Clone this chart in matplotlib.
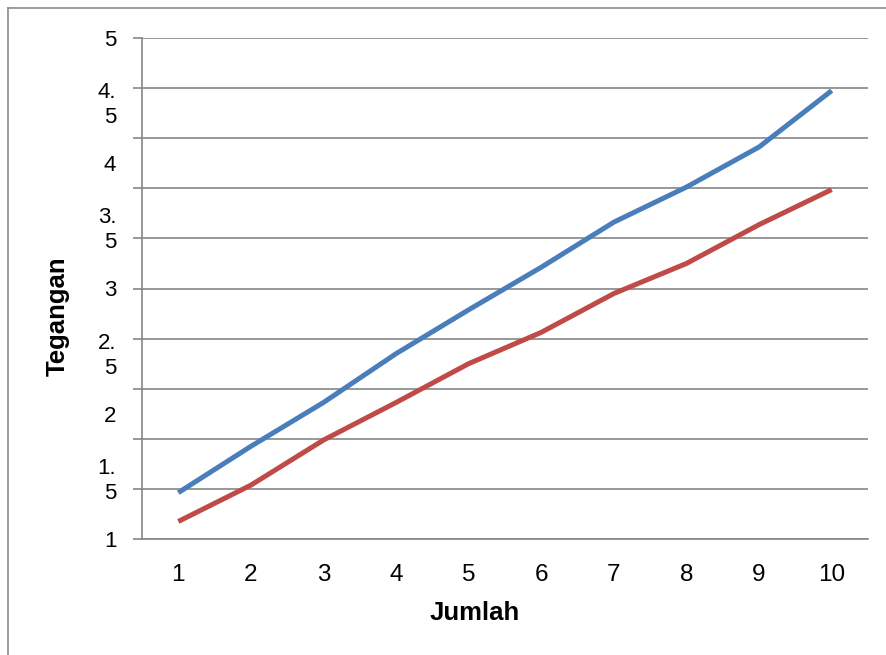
import matplotlib.pyplot as plt
from matplotlib.lines import Line2D
import numpy as np

plt.rcParams['font.family'] = ['Liberation Sans', 'DejaVu Sans']

jumlah = [1, 2, 3, 4, 5, 6, 7, 8, 9, 10]
blue_vals = [1.37, 1.74, 2.09, 2.48, 2.83, 3.17, 3.53, 3.81, 4.13, 4.58]
red_vals = [1.14, 1.43, 1.79, 2.09, 2.40, 2.65, 2.96, 3.20, 3.51, 3.79]
ytick_vals = [1, 1.5, 2, 2.5, 3, 3.5, 4, 4.5, 5]
ytick_labels = ["1", "1.\n5", "2", "2.\n5", "3", "3.\n5", "4", "4.\n5", "5"]

W, H = 887, 655
fig = plt.figure(figsize=(W / 100, H / 100), dpi=100)
ax = fig.add_axes([142 / W, 1 - 539 / H, (868 - 142) / W, (539 - 38) / H])

ax.plot(jumlah, blue_vals, color='#4A7EBB', lw=3.6, solid_capstyle='butt')
ax.plot(jumlah, red_vals, color='#BE4B48', lw=3.6, solid_capstyle='butt')

ax.set_xlim(0.5, 10.5)
ax.set_ylim(1, 5)

grid_c = '#868686'
ax.yaxis.remove_overlapping_locs = False
# gridlines / tick marks (Excel draws them every 0.4 here)
ax.set_yticks(np.linspace(1, 5, 11))
ax.set_yticklabels([])
ax.tick_params(axis='y', which='major', length=6.5, width=1.2, color=grid_c)
ax.yaxis.grid(True, which='major', color=grid_c, lw=1.2)
# labels every 0.5
ax.set_yticks(ytick_vals, minor=True)
ax.set_yticklabels(ytick_labels, minor=True, fontsize=16, linespacing=1.25)
ax.tick_params(axis='y', which='minor', length=0, pad=18.5)

ax.set_xticks(jumlah)
ax.set_xticklabels([str(j) for j in jumlah], fontsize=17.5)
ax.tick_params(axis='x', length=0, pad=18)

for s in ['top', 'right']:
    ax.spines[s].set_visible(False)
for s in ['left', 'bottom']:
    ax.spines[s].set_color(grid_c)
    ax.spines[s].set_linewidth(1.2)
ax.set_axisbelow(True)

fig.text(474.5 / W, 1 - 613 / H, "Jumlah", fontsize=18.5, fontweight='bold',
         ha='center', va='center')
fig.text(58 / W, 1 - 316 / H, "Tegangan", fontsize=18.5, fontweight='bold',
         ha='center', va='center', rotation=90)

# outer chart border
fig.add_artist(Line2D([8 / W, 8 / W], [0, 1 - 8 / H], color='#8c8c8c', lw=1.2))
fig.add_artist(Line2D([8 / W, 1], [1 - 8 / H, 1 - 8 / H], color='#8c8c8c', lw=1.2))

fig.savefig('out.png', dpi=100)
